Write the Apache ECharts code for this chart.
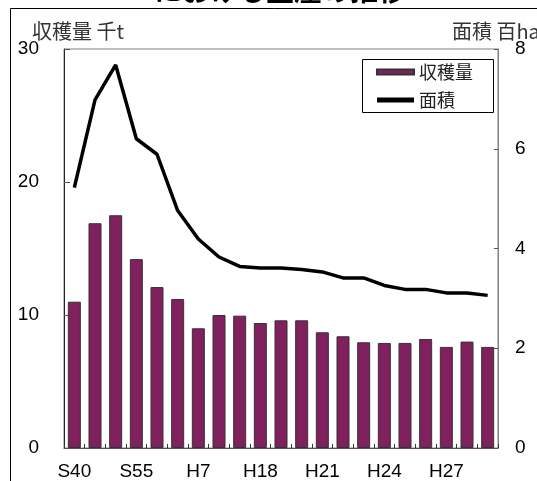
<!DOCTYPE html>
<html>
<head>
<meta charset="utf-8">
<script src="https://cdn.jsdelivr.net/npm/echarts@6/dist/echarts.min.js"></script>
<style>
  html, body { margin: 0; padding: 0; background: #fff; }
  #chart { width: 537px; height: 481px; }
</style>
</head>
<body>
<div id="chart"></div>
<script>
// 年次（昭和・平成）
var categories = ['S40', 'S45', 'S50', 'S55', 'S60', 'H2', 'H7', 'H12', 'H17', 'H18', 'H19',
                  'H20', 'H21', 'H22', 'H23', 'H24', 'H25', 'H26', 'H27', 'H28', 'H29'];
// 収穫量（千t）
var harvest = [11.0, 16.9, 17.5, 14.2, 12.1, 11.2, 9.0, 10.0, 9.95, 9.4, 9.6,
               9.6, 8.7, 8.4, 7.95, 7.9, 7.9, 8.2, 7.6, 8.0, 7.6];
// 面積（百ha）
var area = [5.22, 6.98, 7.68, 6.2, 5.89, 4.76, 4.19, 3.83, 3.64, 3.61, 3.61,
            3.58, 3.53, 3.41, 3.41, 3.26, 3.18, 3.18, 3.11, 3.11, 3.06];
var leftTicks = { min: 0, max: 30, interval: 10 };
var rightTicks = { min: 0, max: 8, interval: 2 };

var jp = '"Noto Sans CJK JP", sans-serif';
var num = '"Liberation Sans", Arial, sans-serif';

var chart = echarts.init(document.getElementById('chart'), null, { renderer: 'canvas' });
chart.setOption({
  backgroundColor: '#fff',
  animation: false,
  graphic: [
    // outer frame of the figure
    { type: 'rect', silent: true, z: -1,
      shape: { x: 10.5, y: 8.5, width: 600, height: 600 },
      style: { fill: 'none', stroke: '#000', lineWidth: 1 } },
    // title (runs off the top edge)
    { type: 'text', silent: true,
      style: { text: 'における生産の推移', x: 280, y: 4, align: 'center', verticalAlign: 'bottom',
               font: 'bold 28px ' + jp, fill: '#000' } },
    // axis units
    { type: 'text', silent: true,
      style: { text: '収穫量 千t', x: 32, y: 31, verticalAlign: 'middle',
               font: '20px ' + jp, fill: '#333' } },
    { type: 'text', silent: true,
      style: { text: '面積 百ha', x: 452, y: 31, verticalAlign: 'middle',
               font: '20px ' + jp, fill: '#333' } },
    // legend frame
    { type: 'rect', silent: true, z: 5,
      shape: { x: 362.5, y: 59.5, width: 131, height: 53 },
      style: { fill: '#fff', stroke: '#000', lineWidth: 1 } }
  ],
  grid: { left: 64, right: 39, top: 49, bottom: 31, show: true,
          borderColor: '#808080', borderWidth: 1, backgroundColor: 'transparent' },
  legend: {
    orient: 'vertical', left: 376, top: 63, z: 10,
    padding: 0,
    itemGap: 10, itemWidth: 37, itemHeight: 5,
    textStyle: { fontFamily: jp, fontSize: 18, color: '#222' },
    data: [
      { name: '収穫量', icon: 'rect' },
      { name: '面積', icon: 'rect', itemStyle: { color: '#000', borderWidth: 0 } }
    ]
  },
  xAxis: {
    type: 'category', data: categories,
    axisLine: { lineStyle: { color: '#555', width: 1 } },
    axisTick: { show: true, inside: true, length: 4, interval: 0, lineStyle: { color: '#333' } },
    axisLabel: { interval: 2, margin: 14, fontFamily: num, fontSize: 19, color: '#000' }
  },
  yAxis: [
    { type: 'value', min: leftTicks.min, max: leftTicks.max, interval: leftTicks.interval,
      position: 'left',
      splitLine: { show: false },
      axisLine: { show: true, lineStyle: { color: '#222' } },
      axisTick: { show: true, inside: true, length: 6, lineStyle: { color: '#555' } },
      axisLabel: { margin: 25, fontFamily: num, fontSize: 19, color: '#000' } },
    { type: 'value', min: rightTicks.min, max: rightTicks.max, interval: rightTicks.interval,
      position: 'right',
      splitLine: { show: false },
      axisLine: { show: true, lineStyle: { color: '#808080' } },
      axisTick: { show: true, inside: true, length: 4, lineStyle: { color: '#555' } },
      axisLabel: { margin: 17, fontFamily: num, fontSize: 19, color: '#000' } }
  ],
  series: [
    { name: '収穫量', type: 'bar', yAxisIndex: 0, data: harvest, barWidth: 13,
      itemStyle: { color: '#80205E', borderColor: '#333', borderWidth: 1 } },
    { name: '面積', type: 'line', yAxisIndex: 1, data: area, symbol: 'none',
      lineStyle: { color: '#000', width: 3.5 }, itemStyle: { color: '#000' }, z: 3 }
  ]
});
</script>
</body>
</html>
